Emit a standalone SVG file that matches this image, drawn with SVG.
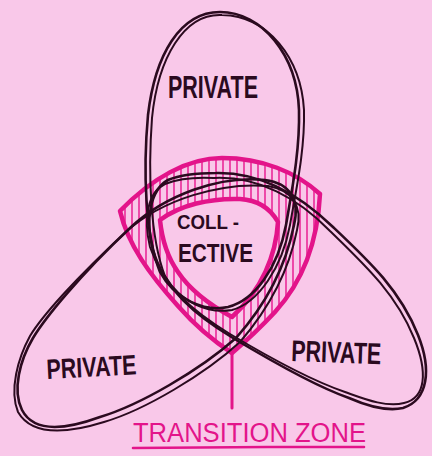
<svg xmlns="http://www.w3.org/2000/svg" width="432" height="456" viewBox="0 0 432 456">
  <style>
    .ink{fill:none;stroke:#2b0a1f;stroke-width:2.6;stroke-linecap:round;stroke-linejoin:round}
    .ink2{fill:none;stroke:#2b0a1f;stroke-width:2;stroke-linecap:round;stroke-linejoin:round}
    .mag{fill:none;stroke:#e3148a;stroke-width:4.5;stroke-linejoin:round}
    .hatch{stroke:#ea2a98;stroke-width:1.6}
    .lbl{font-family:"Liberation Sans",Arial,sans-serif;font-weight:700;fill:#2b0a1f}
    .tz{font-family:"Liberation Sans",Arial,sans-serif;font-weight:400;fill:#e3148a}
  </style>
  <defs>
    <clipPath id="bandClip">
      <path clip-rule="evenodd" d="M120,211 C152,178 188,158 222,158 C262,158 296,172 320,194 C318,235 306,278 275,312 C260,328 245,342 232,353 C212,340 192,322 178,306 C150,275 128,245 120,211 Z M160,220 C180,205 210,198 240,199 C258,200 270,208 278,222 C276,255 262,290 232,317 C210,305 190,290 178,272 C168,258 162,240 160,220 Z"/>
    </clipPath>
  </defs>
  <rect width="432" height="456" fill="#f9c8e9"/>

  <g id="transition-band">
    <g clip-path="url(#bandClip)">
      <path class="hatch" d="M118,150V360M125,150V360M132,150V360M139,150V360M146,150V360M153,150V360M160,150V360M167,150V360M174,150V360M181,150V360M188,150V360M195,150V360M202,150V360M209,150V360M216,150V360M223,150V360M230,150V360M237,150V360M244,150V360M251,150V360M258,150V360M265,150V360M272,150V360M279,150V360M286,150V360M293,150V360M300,150V360M307,150V360M314,150V360M321,150V360"/>
    </g>
    <path class="mag" d="M120,211 C152,178 188,158 222,158 C262,158 296,172 320,194 C318,235 306,278 275,312 C260,328 245,342 232,353 C212,340 192,322 178,306 C150,275 128,245 120,211 Z"/>
    <path class="mag" d="M160,220 C180,205 210,198 240,199 C258,200 270,208 278,222 C276,255 262,290 232,317 C210,305 190,290 178,272 C168,258 162,240 160,220 Z"/>
  </g>

  <g id="petal-top">
    <path class="ink" d="M220,12 C180,12 155,55 148,115 C143,170 145,235 160,272 C175,300 205,312 228,307 C255,300 278,268 286,225 C292,190 300,150 299,110 C297,55 262,12 220,12 Z"/>
    <path class="ink2" d="M222,15 C184,13 158,58 152,118 C148,172 150,238 165,276 C181,303 208,314 232,310 C258,303 282,268 290,225 C296,190 305,150 304,110 C301,58 268,16 222,15 Z"/>
    <text class="lbl" x="168" y="98" font-size="31" textLength="90" lengthAdjust="spacingAndGlyphs">PRIVATE</text>
  </g>

  <g id="petal-left">
    <path class="ink" d="M130,228 C165,195 220,175 265,180 C290,183 300,200 294,225 C287,260 270,300 236,338 C200,370 140,405 100,417 C70,428 35,435 22,410 C12,390 20,360 33,338 C45,318 80,275 130,228 Z"/>
    <path class="ink2" d="M126,232 C162,199 222,182 268,186 C292,190 303,206 297,230 C290,265 272,305 240,342 C205,374 145,410 104,422 C72,432 33,438 18,412 C9,390 18,358 30,336 C42,316 76,278 126,232 Z"/>
    <text class="lbl" x="47" y="379" font-size="28" textLength="90" lengthAdjust="spacingAndGlyphs" transform="rotate(-3 47 379)">PRIVATE</text>
  </g>

  <g id="petal-right">
    <path class="ink" d="M216,173 C260,172 300,195 333,227 C370,262 400,290 418,335 C432,370 428,400 403,408 C385,412 365,405 349,398 C320,388 283,368 233,338 C195,315 165,290 153,250 C145,220 150,190 168,180 C182,174 198,173 216,173 Z"/>
    <path class="ink2" d="M214,178 C258,176 298,198 330,231 C366,266 396,294 414,338 C428,372 426,398 404,403 C386,408 362,398 345,392 C316,382 280,364 230,334 C192,311 163,286 150,247 C143,218 148,192 165,184 C180,178 196,177 214,178 Z"/>
    <text class="lbl" x="291" y="361" font-size="30" textLength="90" lengthAdjust="spacingAndGlyphs" transform="rotate(2 291 361)">PRIVATE</text>
  </g>

  <g id="collective">
    <text class="lbl" x="177" y="229" font-size="21" textLength="62" lengthAdjust="spacingAndGlyphs">COLL -</text>
    <text class="lbl" x="178" y="262" font-size="25" textLength="75" lengthAdjust="spacingAndGlyphs">ECTIVE</text>
  </g>

  <g id="connectors">
    <path d="M232,353 V408" stroke="#e3148a" stroke-width="3" fill="none" stroke-linecap="round"/>
  </g>

  <g id="transition-zone">
    <text class="tz" x="133" y="442" font-size="27" textLength="233" lengthAdjust="spacingAndGlyphs">TRANSITION ZONE</text>
    <path d="M133,448 C200,447 290,447 364,447" stroke="#e3148a" stroke-width="2.6" fill="none" stroke-linecap="round"/>
  </g>
</svg>
